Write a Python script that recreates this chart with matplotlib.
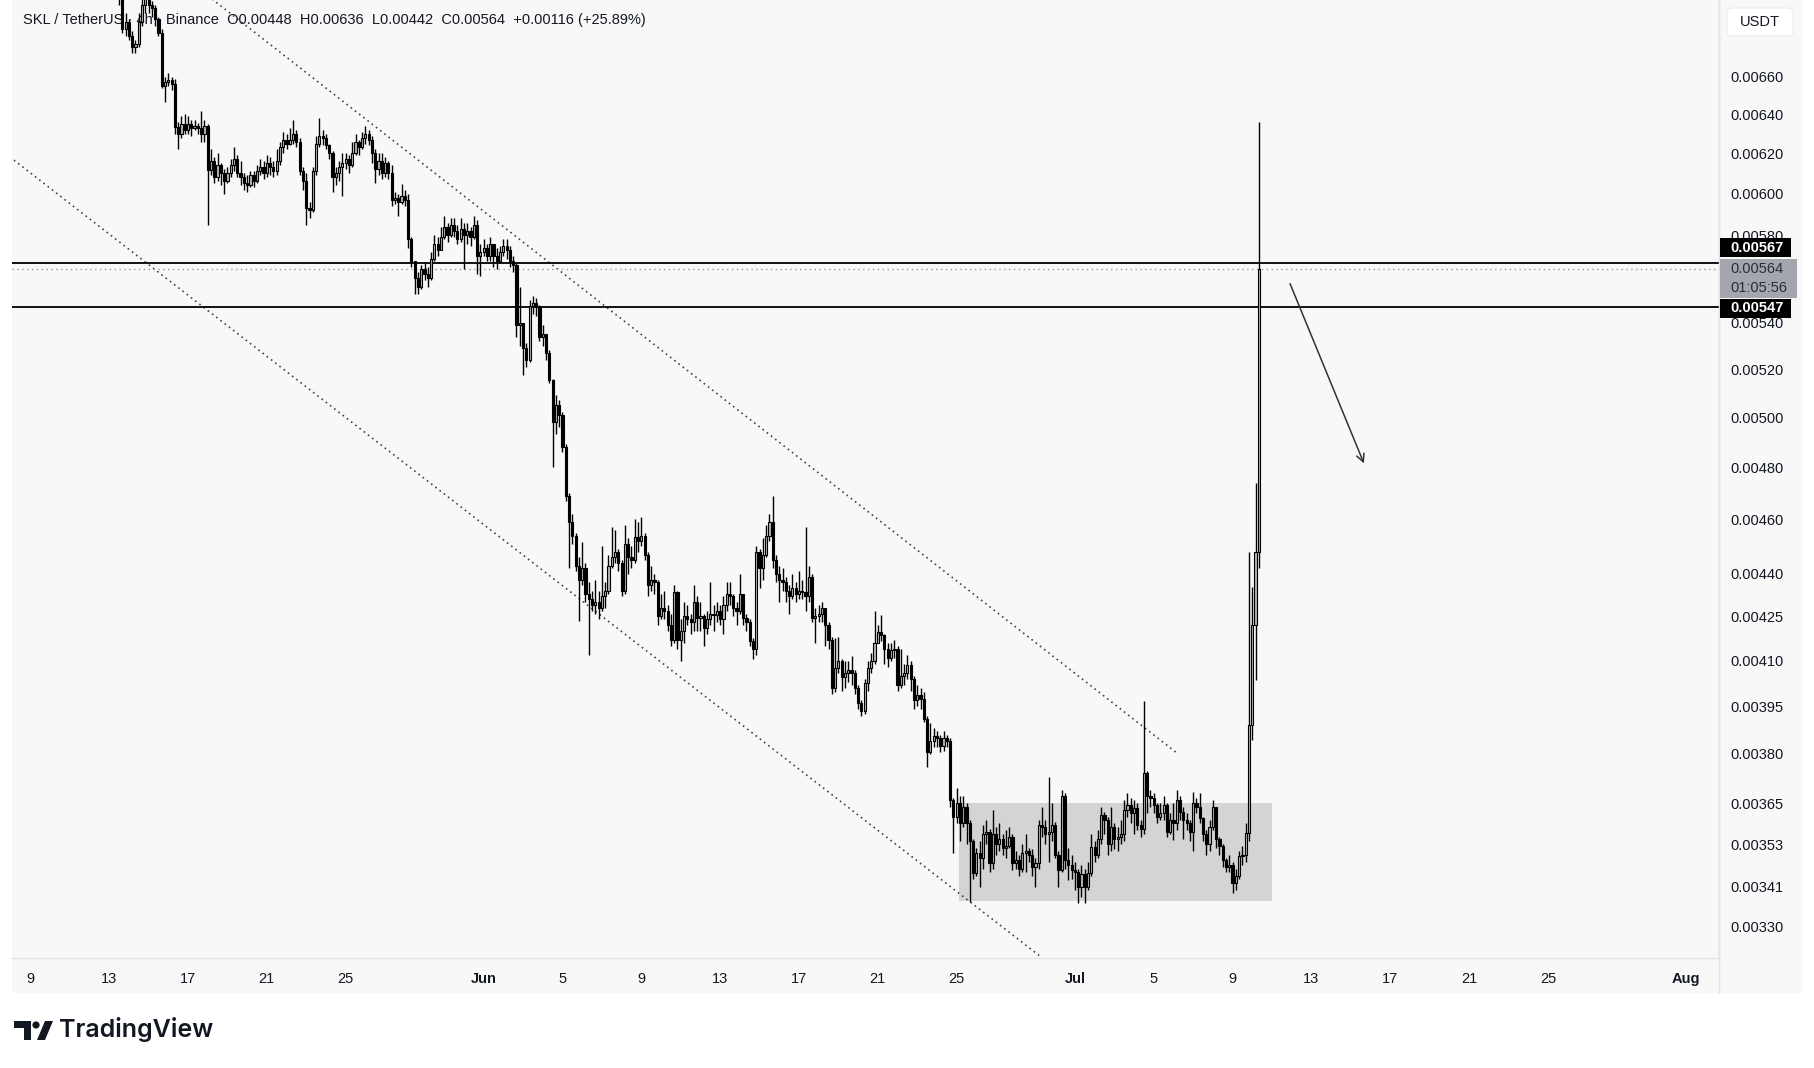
import numpy as np
import pandas as pd
import matplotlib
matplotlib.use('Agg')
import matplotlib.pyplot as plt
import matplotlib.dates as mdates
from matplotlib.patches import Rectangle, Circle, Polygon, FancyBboxPatch
from matplotlib.ticker import FixedLocator, NullLocator

# SKL/USDT 4h candles, prices in 1e-6 USDT (open = previous close)
start = '2024-05-13 08:00'
first_open = 7200
close = [7150, 7080, 6860, 6900, 6820, 6760, 6780, 6900, 7000, 7050, 7000, 6980, 6920, 6840,
         6550, 6570, 6580, 6560, 6335, 6300, 6350, 6320, 6350, 6330, 6340, 6330, 6300, 6340,
         6116, 6160, 6080, 6140, 6100, 6060, 6100, 6140, 6170, 6100, 6080, 6050, 6040, 6090,
         6060, 6110, 6130, 6100, 6150, 6130, 6110, 6160, 6230, 6270, 6250, 6270, 6300, 6260,
         6110, 6060, 5930, 5920, 6110, 6250, 6290, 6280, 6240, 6200, 6080, 6100, 6130, 6150,
         6170, 6140, 6200, 6260, 6230, 6280, 6300, 6270, 6200, 6120, 6160, 6100, 6150, 6100,
         5970, 5980, 5960, 5990, 5970, 5780, 5680, 5600, 5560, 5640, 5620, 5600, 5690, 5760,
         5730, 5790, 5840, 5800, 5850, 5820, 5780, 5830, 5800, 5820, 5790, 5850, 5700, 5720,
         5740, 5700, 5760, 5700, 5680, 5720, 5750, 5730, 5680, 5660, 5390, 5400, 5290, 5240,
         5475, 5490, 5470, 5340, 5350, 5270, 5155, 4980, 5050, 5010, 4880, 4690, 4590, 4540,
         4430, 4380, 4420, 4330, 4310, 4290, 4300, 4280, 4320, 4340, 4430, 4460, 4480, 4440,
         4340, 4510, 4460, 4450, 4535, 4520, 4540, 4470, 4360, 4380, 4370, 4250, 4280, 4270,
         4220, 4170, 4335, 4170, 4200, 4250, 4240, 4230, 4300, 4245, 4250, 4210, 4240, 4260,
         4255, 4270, 4240, 4290, 4330, 4320, 4280, 4270, 4330, 4245, 4230, 4165, 4140, 4480,
         4420, 4470, 4540, 4590, 4450, 4400, 4380, 4370, 4340, 4320, 4350, 4330, 4340, 4335,
         4320, 4390, 4245, 4250, 4260, 4280, 4220, 4170, 4010, 4075, 4100, 4045, 4060, 4070,
         4060, 4010, 3960, 3936, 4025, 4075, 4100, 4160, 4195, 4185, 4140, 4110, 4135, 4140,
         4020, 4050, 4060, 4085, 4040, 3970, 3985, 3975, 3910, 3805, 3840, 3855, 3850, 3825,
         3850, 3840, 3660, 3610, 3650, 3590, 3640, 3590, 3540, 3448, 3505, 3490, 3560, 3565,
         3475, 3560, 3530, 3545, 3520, 3525, 3550, 3476, 3485, 3460, 3505, 3510, 3500, 3465,
         3475, 3585, 3580, 3560, 3565, 3585, 3500, 3455, 3670, 3485, 3470, 3455, 3450, 3410,
         3445, 3410, 3448, 3522, 3500, 3545, 3615, 3600, 3530, 3580, 3545, 3550, 3560, 3630,
         3645, 3620, 3635, 3585, 3575, 3741, 3670, 3665, 3645, 3610, 3620, 3645, 3565, 3600,
         3590, 3660, 3625, 3600, 3590, 3565, 3650, 3640, 3605, 3560, 3530, 3580, 3640, 3545,
         3525, 3485, 3465, 3470, 3420, 3440, 3495, 3500, 3562, 3890, 4221, 4480, 5640]
high = [7250, 7200, 7100, 6950, 6920, 6850, 6800, 6950, 7100, 7150, 7100, 7020, 7000, 6930,
        6860, 6600, 6620, 6600, 6590, 6360, 6390, 6400, 6390, 6370, 6370, 6355, 6420, 6370,
        6350, 6220, 6180, 6200, 6150, 6120, 6130, 6170, 6230, 6190, 6160, 6100, 6090, 6110,
        6110, 6140, 6170, 6160, 6190, 6180, 6160, 6220, 6260, 6310, 6300, 6330, 6370, 6320,
        6280, 6130, 6100, 5960, 6130, 6290, 6380, 6320, 6300, 6250, 6210, 6130, 6160, 6200,
        6200, 6190, 6260, 6300, 6270, 6310, 6340, 6320, 6290, 6220, 6200, 6200, 6180, 6160,
        6140, 6010, 6000, 6045, 6020, 6000, 5790, 5680, 5630, 5660, 5670, 5650, 5720, 5800,
        5790, 5840, 5890, 5860, 5880, 5880, 5850, 5880, 5860, 5860, 5840, 5890, 5870, 5760,
        5780, 5760, 5790, 5740, 5740, 5750, 5780, 5780, 5750, 5700, 5670, 5560, 5400, 5310,
        5500, 5520, 5510, 5480, 5390, 5350, 5280, 5160, 5090, 5070, 5020, 4890, 4700, 4620,
        4550, 4460, 4515, 4440, 4370, 4340, 4380, 4340, 4500, 4370, 4470, 4570, 4560, 4490,
        4450, 4580, 4530, 4500, 4600, 4590, 4610, 4550, 4480, 4430, 4400, 4380, 4330, 4340,
        4290, 4260, 4360, 4340, 4240, 4300, 4290, 4260, 4360, 4320, 4300, 4260, 4270, 4370,
        4290, 4300, 4290, 4320, 4370, 4370, 4330, 4300, 4400, 4320, 4260, 4240, 4175, 4500,
        4490, 4530, 4580, 4620, 4690, 4470, 4430, 4420, 4390, 4360, 4400, 4370, 4410, 4380,
        4570, 4430, 4400, 4280, 4290, 4300, 4280, 4230, 4180, 4177, 4180, 4105, 4100, 4100,
        4115, 4070, 4020, 3970, 4040, 4100, 4125, 4270, 4220, 4256, 4190, 4160, 4160, 4170,
        4150, 4140, 4090, 4120, 4100, 4050, 4020, 4010, 3995, 3920, 3895, 3880, 3870, 3860,
        3870, 3860, 3850, 3665, 3696, 3670, 3670, 3650, 3600, 3545, 3520, 3540, 3585, 3600,
        3575, 3630, 3580, 3590, 3560, 3570, 3580, 3560, 3510, 3500, 3530, 3560, 3520, 3515,
        3490, 3600, 3640, 3600, 3730, 3650, 3595, 3510, 3690, 3680, 3520, 3500, 3480, 3460,
        3470, 3460, 3480, 3560, 3540, 3570, 3640, 3625, 3610, 3640, 3590, 3580, 3600, 3660,
        3680, 3665, 3660, 3650, 3600, 3968, 3748, 3690, 3680, 3650, 3650, 3670, 3650, 3620,
        3650, 3690, 3670, 3640, 3620, 3600, 3684, 3665, 3680, 3610, 3570, 3600, 3660, 3640,
        3550, 3530, 3490, 3500, 3480, 3460, 3510, 3525, 3590, 4480, 4354, 4739, 6360]
low = [7050, 7000, 6840, 6820, 6800, 6728, 6730, 6760, 6880, 6950, 6950, 6930, 6880, 6820,
       6540, 6465, 6550, 6530, 6300, 6220, 6280, 6300, 6300, 6290, 6320, 6300, 6260, 6260,
       5850, 6090, 6050, 6060, 6040, 6000, 6050, 6080, 6110, 6080, 6040, 6020, 6010, 6030,
       6030, 6050, 6090, 6070, 6080, 6090, 6080, 6090, 6140, 6200, 6220, 6240, 6250, 6230,
       6090, 6020, 5850, 5880, 5910, 6090, 6230, 6240, 6220, 6170, 6010, 6040, 6060, 5990,
       6120, 6100, 6130, 6190, 6190, 6220, 6250, 6240, 6150, 6050, 6090, 6070, 6080, 6070,
       5940, 5950, 5890, 5950, 5940, 5740, 5650, 5530, 5530, 5550, 5590, 5560, 5590, 5680,
       5700, 5730, 5780, 5770, 5790, 5790, 5760, 5770, 5640, 5760, 5750, 5780, 5620, 5610,
       5700, 5680, 5680, 5650, 5640, 5670, 5700, 5690, 5650, 5630, 5340, 5300, 5175, 5210,
       5230, 5440, 5430, 5320, 5300, 5240, 5140, 4800, 4930, 4960, 4860, 4670, 4420, 4510,
       4410, 4235, 4360, 4300, 4120, 4270, 4260, 4240, 4270, 4280, 4330, 4420, 4440, 4410,
       4320, 4330, 4400, 4420, 4440, 4480, 4500, 4450, 4320, 4340, 4330, 4220, 4240, 4240,
       4200, 4150, 4160, 4140, 4100, 4160, 4220, 4190, 4200, 4200, 4200, 4150, 4190, 4220,
       4200, 4230, 4220, 4190, 4270, 4290, 4250, 4220, 4260, 4220, 4200, 4150, 4105, 4120,
       4350, 4380, 4460, 4520, 4420, 4370, 4300, 4340, 4300, 4260, 4310, 4300, 4310, 4310,
       4270, 4300, 4230, 4160, 4230, 4230, 4150, 4140, 3990, 3995, 4060, 4000, 4010, 4030,
       4020, 3990, 3940, 3920, 3925, 4000, 4060, 4090, 4160, 4165, 4090, 4080, 4100, 4110,
       4000, 4010, 4020, 4040, 4000, 3940, 3950, 3940, 3900, 3760, 3800, 3820, 3820, 3805,
       3810, 3820, 3640, 3505, 3590, 3540, 3580, 3530, 3368, 3430, 3440, 3409, 3460, 3530,
       3450, 3460, 3500, 3510, 3500, 3490, 3520, 3455, 3460, 3440, 3450, 3450, 3480, 3440,
       3410, 3460, 3550, 3530, 3480, 3540, 3490, 3409, 3450, 3460, 3428, 3430, 3400, 3365,
       3380, 3365, 3400, 3440, 3480, 3490, 3530, 3560, 3500, 3510, 3515, 3510, 3530, 3540,
       3610, 3590, 3560, 3570, 3550, 3558, 3620, 3640, 3620, 3590, 3600, 3600, 3550, 3560,
       3542, 3570, 3600, 3545, 3570, 3540, 3510, 3620, 3590, 3540, 3500, 3510, 3570, 3520,
       3500, 3465, 3450, 3450, 3392, 3400, 3430, 3470, 3480, 3540, 3843, 4036, 4420]

price_ticks = [0.00330, 0.00341, 0.00353, 0.00365, 0.00380, 0.00395, 0.00410, 0.00425,
               0.00440, 0.00460, 0.00480, 0.00500, 0.00520, 0.00540, 0.00580, 0.00600,
               0.00620, 0.00640, 0.00660]
date_ticks = ['2024-05-09', '2024-05-13', '2024-05-17', '2024-05-21', '2024-05-25',
              '2024-06-01', '2024-06-05', '2024-06-09', '2024-06-13', '2024-06-17',
              '2024-06-21', '2024-06-25', '2024-07-01', '2024-07-05', '2024-07-09',
              '2024-07-13', '2024-07-17', '2024-07-21', '2024-07-25', '2024-08-01']
date_labels = ['9', '13', '17', '21', '25', 'Jun', '5', '9', '13', '17', '21', '25',
               'Jul', '5', '9', '13', '17', '21', '25', 'Aug']

levels = [0.00567, 0.00547]
last_price = 0.00564
box_time = ['2024-06-25 03:00', '2024-07-11 00:00']
box_price = [0.00337, 0.00365]
chan_top_t = ['2024-05-17 00:00', '2024-07-06 04:20']
chan_top_p = [0.00714, 0.003802]
chan_bot_t = ['2024-05-08 04:00', '2024-06-29 06:40']
chan_bot_p = [0.006166, 0.003220]
arrow_t = ['2024-07-11 20:40', '2024-07-15 17:15']
arrow_p = [0.005587, 0.004805]

header = ('SKL / TetherUS · 4h · Binance  O0.00448  H0.00636  L0.00442  '
          'C0.00564  +0.00116 (+25.89%)')

def dnum(s):
    return mdates.date2num(pd.Timestamp(s).to_pydatetime())

W, H = 1814, 1068
narrow = ['Liberation Sans Narrow', 'Liberation Sans', 'DejaVu Sans']
plain = ['Liberation Sans', 'DejaVu Sans']

fig = plt.figure(figsize=(W / 100, H / 100), dpi=100)
fig.patch.set_facecolor('white')

# panel backgrounds (pixel coords)
bg = fig.add_axes([0, 0, 1, 1], zorder=0)
bg.set_xlim(0, W)
bg.set_ylim(H, 0)
bg.axis('off')
bg.add_patch(Rectangle((12, 0), 1791, 993, color='#f8f8f8', lw=0))
bg.plot([1719, 1719], [0, 993], color='#e3e3e3', lw=1)

ax = fig.add_axes([12 / W, 1 - 958 / H, 1707 / W, 958 / H], zorder=1)
ax.patch.set_alpha(0)
ax.set_yscale('log')
ax.set_ylim(0.003217, 0.007026)
ax.set_xlim(dnum('2024-05-08 01:40'), dnum('2024-08-02 16:20'))

c = np.array(close) / 1e6
h = np.array(high) / 1e6
l = np.array(low) / 1e6
o = np.r_[first_open / 1e6, c[:-1]]
h = np.maximum(h, np.maximum(o, c))
l = np.minimum(l, np.minimum(o, c))
t = mdates.date2num(pd.date_range(start, periods=len(c), freq='4h').to_pydatetime())
up = c >= o

# box, channel, levels
ax.add_patch(Rectangle((dnum(box_time[0]), box_price[0]),
                       dnum(box_time[1]) - dnum(box_time[0]), box_price[1] - box_price[0],
                       color='#d4d4d4', lw=0, zorder=1.5))
ax.plot([dnum(s) for s in chan_top_t], chan_top_p, color='#444444', lw=1.2,
        ls=(0, (1, 2.2)), zorder=2)
ax.plot([dnum(s) for s in chan_bot_t], chan_bot_p, color='#444444', lw=1.2,
        ls=(0, (1, 2.2)), zorder=2)
for lv in levels:
    ax.axhline(lv, color='black', lw=1.3, zorder=2.2)
ax.axhline(last_price, color='#9a9a9a', lw=1, ls=(0, (1, 2.5)), zorder=2.1)

# candles
ax.vlines(t, l, h, color='black', lw=1.0, zorder=3)
ax.bar(t[up], (c - o)[up], bottom=o[up], width=0.11, color='#b4b4b4',
       edgecolor='black', lw=0.8, zorder=4)
ax.bar(t[~up], (o - c)[~up], bottom=c[~up], width=0.11, color='black',
       edgecolor='black', lw=0.8, zorder=4)

ax.annotate('', xy=(dnum(arrow_t[1]), arrow_p[1]), xytext=(dnum(arrow_t[0]), arrow_p[0]),
            arrowprops=dict(arrowstyle='->', color='#333333', lw=1.1, mutation_scale=14),
            zorder=5)

ax.text(11 / 1707, 1 - 20 / 958, header, transform=ax.transAxes, ha='left', va='center',
        fontsize=10.5, color='#131722', family=narrow, zorder=2.5)

# axes
ax.yaxis.tick_right()
ax.yaxis.set_major_locator(FixedLocator(price_ticks))
ax.yaxis.set_minor_locator(NullLocator())
ax.set_yticklabels(['%.5f' % p for p in price_ticks])
ax.tick_params(axis='y', length=0, pad=8, labelsize=10.5, labelcolor='#131722')
for lab in ax.get_yticklabels():
    lab.set_family(plain)
ax.xaxis.set_major_locator(FixedLocator([dnum(s) for s in date_ticks]))
ax.xaxis.set_minor_locator(NullLocator())
ax.set_xticklabels(date_labels)
ax.tick_params(axis='x', length=0, pad=10, labelsize=10.5, labelcolor='#131722')
for lab in ax.get_xticklabels():
    lab.set_family(narrow)
    if not lab.get_text().isdigit():
        lab.set_fontweight('bold')
for s in ['top', 'left']:
    ax.spines[s].set_visible(False)
for s in ['right', 'bottom']:
    ax.spines[s].set_color('#e3e3e3')
    ax.spines[s].set_linewidth(1)

# price badges on the scale
fg = fig.add_axes([0, 0, 1, 1], zorder=5)
fg.set_xlim(0, W)
fg.set_ylim(H, 0)
fg.axis('off')
fg.patch.set_alpha(0)

def ypix(p):
    return H - ax.transData.transform((ax.get_xlim()[0], p))[1]

y1, y2, y3 = ypix(levels[0]) - 15, ypix(last_price), ypix(levels[1]) + 1
fg.add_patch(Rectangle((1720, y1 - 9.5), 71, 19, color='black', lw=0))
fg.text(1730, y1, '%.5f' % levels[0], color='white', fontsize=10.5, fontweight='bold',
        va='center', family=plain)
fg.add_patch(Rectangle((1720, y2 - 10), 77, 39, color='#a3a6ad', lw=0))
fg.text(1730, y2, '%.5f' % last_price, color='#2a2e39', fontsize=10.5, va='center',
        family=plain)
fg.text(1730, y2 + 19, '01:05:56', color='#2a2e39', fontsize=10.5, va='center',
        family=plain)
fg.add_patch(Rectangle((1720, y3 - 9.5), 71, 19, color='black', lw=0))
fg.text(1730, y3, '%.5f' % levels[1], color='white', fontsize=10.5, fontweight='bold',
        va='center', family=plain)

fg.add_patch(FancyBboxPatch((1727, 8), 66, 28, boxstyle='round,pad=0,rounding_size=5',
                            fc='white', ec='#ededed', lw=0.8))
fg.text(1760, 22, 'USDT', ha='center', va='center', fontsize=10.5, color='#131722',
        family=plain)

# TradingView logo
fg.add_patch(Polygon([(14, 1021), (31, 1021), (31, 1040), (24, 1040), (24, 1028),
                      (14, 1028)], color='#131722', lw=0))
fg.add_patch(Circle((36, 1025), 3.6, color='#131722', lw=0))
fg.add_patch(Polygon([(37, 1040), (45, 1021), (53, 1021), (45, 1040)], color='#131722', lw=0))
fg.text(59, 1030, 'TradingView', ha='left', va='center', fontsize=18, fontweight='semibold',
        color='#131722', family=['Inter', 'DejaVu Sans'])

fig.savefig('out.png', dpi=100)
